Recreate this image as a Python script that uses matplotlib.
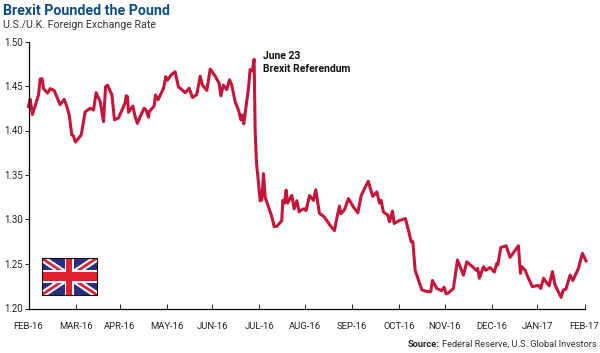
import matplotlib
matplotlib.use("Agg")
import matplotlib.pyplot as plt
from matplotlib.patches import Polygon, Rectangle
from matplotlib.ticker import FixedLocator, FixedFormatter
import numpy as np

plt.rcParams['font.family'] = ['Roboto', 'DejaVu Sans']

days = [0,1.1,2.6,5.0,6.6,7.7,9.0,9.9,12.5,14.3,16.9,18.6,20.8,23.5,25.2,26.8,28.5,29.6,30.9,34.7,37.3,40.6,42.8,44.5,47.2,49.4,50.7,52.0,54.9,56.6,59.2,63.6,64.3,65.2,65.8,68.7,70.2,71.7,73.5,76.1,77.4,79.0,79.4,82.7,83.6,85.3,88.9,90.4,91.5,93.7,96.5,98.7,100.9,103.1,105.8,107.9,110.8,113.0,114.5,117.4,119.6,122.9,125.5,126.6,128.3,130.5,132.3,133.8,136.0,138.2,139.8,140.6,141.7,144.8,145.9,147.4,148.5,149.2,150.1,151.2,152.5,153.6,154.7,155.8,158.0,160.2,161.7,163.5,166.7,167.4,168.5,169.6,170.5,173.3,174.9,176.6,178.2,
        178.8,181.4,182.7,185.0,187.6,189.1,191.5,194.6,198.5,201.4,202.9,204.7,205.6,208.0,210.6,213.9,216.8,219.0,223.6,226.6,229.3,231.0,232.1,233.6,236.5,237.6,239.6,240.7,244.2,248.1,250.1,251.9,253.0,254.5,256.7,258.9,262.2,264.8,265.9,268.8,272.0,273.6,274.9,276.4,279.7,282.4,286.3,288.5,292.9,294.6,295.7,296.8,299.5,301.0,303.9,306.7,308.2,308.9,310.9,314.4,317.0,322.5,323.8,324.7,326.9,329.1,331.7,335.7,337.2,339.0,342.7,344.9,346.6,350.6,352.1,353.7,356.5,358.3,362.0,364.6,367.0]
rate = [1.427,1.435,1.418,1.431,1.44,1.458,1.458,1.447,1.442,1.447,1.445,1.438,1.429,1.435,1.427,1.4175,1.395,1.394,1.387,1.395,1.421,1.425,1.423,1.4425,1.4325,1.41,1.449,1.451,1.44,1.412,1.414,1.431,1.439,1.438,1.4205,1.4275,1.4155,1.408,1.4155,1.425,1.423,1.415,1.421,1.4275,1.44,1.4345,1.4475,1.4605,1.4565,1.462,1.466,1.449,1.446,1.4425,1.4475,1.437,1.4405,1.461,1.451,1.445,1.469,1.461,1.453,1.439,1.451,1.446,1.457,1.451,1.4325,1.423,1.412,1.4175,1.4075,1.4475,1.4685,1.467,1.48,1.40,1.363,1.345,1.321,1.322,1.3515,1.325,1.314,1.303,1.292,1.2925,1.2985,1.3215,1.3185,1.333,1.3185,1.327,1.312,1.321,1.3085,
        1.31,1.312,1.31,1.327,1.3215,1.3335,1.307,1.303,1.2935,1.2875,1.301,1.315,1.3065,1.311,1.3235,1.314,1.3075,1.327,1.343,1.326,1.331,1.3185,1.3215,1.3085,1.305,1.2975,1.3095,1.2955,1.299,1.301,1.288,1.275,1.275,1.243,1.232,1.221,1.219,1.219,1.2315,1.2225,1.22,1.224,1.2165,1.2175,1.2225,1.2545,1.2375,1.2525,1.246,1.243,1.245,1.234,1.247,1.243,1.246,1.241,1.2505,1.249,1.2685,1.2705,1.2575,1.2705,1.2395,1.247,1.243,1.234,1.2245,1.226,1.2225,1.234,1.2255,1.2415,1.2265,1.2125,1.221,1.2215,1.2375,1.2315,1.245,1.262,1.2535]

month_days = [31,29,31,30,31,30,31,31,30,31,30,31]
month_labels = ["FEB-16","MAR-16","APR-16","MAY-16","JUN-16","JUL-16","AUG-16","SEP-16","OCT-16","NOV-16","DEC-16","JAN-17","FEB-17"]
y_ticks = [1.20,1.25,1.30,1.35,1.40,1.45,1.50]

W, H = 600, 353
fig = plt.figure(figsize=(W/100, H/100), dpi=100)
ax = fig.add_axes([28.5/W, 1-308.5/H, 556/W, 267/H])
ax.plot(days, rate, color="#c5153a", lw=2.2, solid_joinstyle="round", clip_on=False)
ax.set_xlim(0, 366)
ax.set_ylim(1.20, 1.50)
ax.xaxis.set_major_locator(FixedLocator(np.cumsum([0]+month_days)))
ax.xaxis.set_major_formatter(FixedFormatter(month_labels))
ax.set_yticks(y_ticks)
ax.set_yticklabels([f"{v:.2f}" for v in y_ticks])
for s in ("top", "right"):
    ax.spines[s].set_visible(False)
for s in ("left", "bottom"):
    ax.spines[s].set_linewidth(0.9)
ax.tick_params(axis="x", direction="in", length=3.5, width=0.7, labelsize=6.8, pad=10, colors="#222222")
ax.tick_params(axis="y", direction="out", length=3, width=0.7, labelsize=6.9, pad=1.2, colors="#222222")

def px(x, y):
    return x/W, 1-y/H

fig.text(*px(3, 15), "Brexit Pounded the Pound", fontsize=10.2, fontweight="bold", color="#0e4c80", va="baseline")
fig.text(*px(3, 28), "U.S./U.K. Foreign Exchange Rate", fontsize=7.7, color="#333333", va="baseline")
fig.text(*px(263, 59), "June 23", fontsize=7.5, fontweight="bold", color="#111111", va="baseline")
fig.text(*px(263, 72), "Brexit Referendum", fontsize=7.5, fontweight="bold", color="#111111", va="baseline")
fig.text(*px(597, 347), "Federal Reserve, U.S. Global Investors", fontsize=6.7, color="#333333", ha="right", va="baseline")
fig.text(*px(439.5, 347), "Source:", fontsize=6.7, fontweight="bold", color="#222222", ha="right", va="baseline")

# Union Jack
fa = fig.add_axes([41.5/W, 1-295/H, 55.5/W, 37/H])
fa.set_xlim(0, 60); fa.set_ylim(0, 30)
fa.set_xticks([]); fa.set_yticks([])
fa.set_facecolor("#2b2e7f")
def band(x0, y0, x1, y1, w, color):
    d = np.array([x1-x0, y1-y0], float); n = np.array([-d[1], d[0]])/np.hypot(*d)*w/2
    fa.add_patch(Polygon([(x0+n[0], y0+n[1]), (x1+n[0], y1+n[1]), (x1-n[0], y1-n[1]), (x0-n[0], y0-n[1])], color=color, lw=0))
band(0, 0, 60, 30, 6, "white"); band(0, 30, 60, 0, 6, "white")
band(0, 0, 60, 30, 2.4, "#dd2230"); band(0, 30, 60, 0, 2.4, "#dd2230")
fa.add_patch(Rectangle((25, 0), 10, 30, color="white", lw=0))
fa.add_patch(Rectangle((0, 10), 60, 10, color="white", lw=0))
fa.add_patch(Rectangle((26.5, 0), 7, 30, color="#dd2230", lw=0))
fa.add_patch(Rectangle((0, 11.5), 60, 7, color="#dd2230", lw=0))
for s in fa.spines.values():
    s.set_linewidth(0.8); s.set_color("#111111")

fig.savefig("out.png", dpi=100)
